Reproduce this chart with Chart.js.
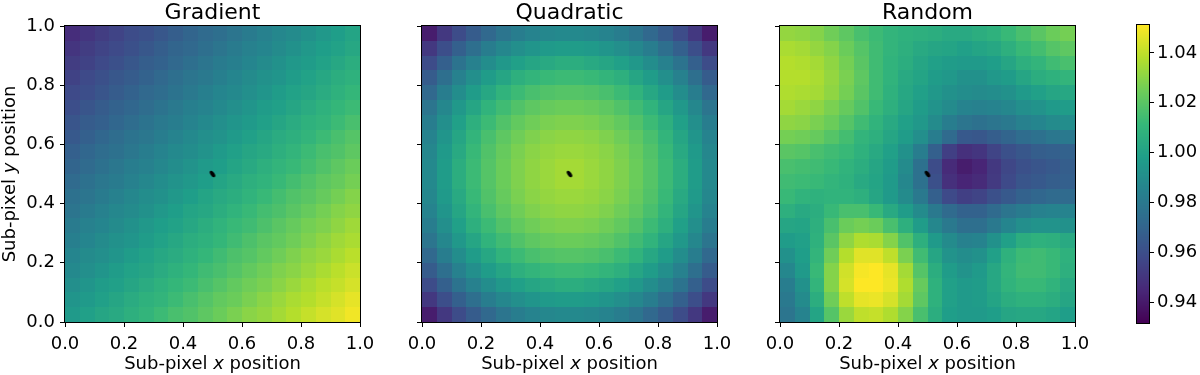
<!DOCTYPE html>
<html lang="en">
<head>
<meta charset="UTF-8">
<title>Sub-pixel response maps</title>
<style>
  body { margin: 0; background: #fff; }
  .wrap { position: relative; width: 1200px; height: 375px; }
  .wrap canvas { position: absolute; left: 0; top: 0; }
</style>
</head>
<body>
<div class="wrap">
  <canvas id="gradientChart" width="1200" height="375"></canvas>
  <canvas id="quadraticChart" width="1200" height="375"></canvas>
  <canvas id="randomChart" width="1200" height="375"></canvas>
  <canvas id="colorbarChart" width="1200" height="375"></canvas>
</div>
<script src="https://cdn.jsdelivr.net/npm/chart.js"></script>
<script>
// ---- data ----
const titles = ['Gradient', 'Quadratic', 'Random'];
const xLabelParts = [['Sub-pixel ', false], ['x', true], [' position', false]];
const yLabelParts = [['Sub-pixel ', false], ['y', true], [' position', false]];
const axisTicks = [0.0, 0.2, 0.4, 0.6, 0.8, 1.0];
const colorbarTicks = [0.94, 0.96, 0.98, 1.00, 1.02, 1.04];
const colorMin = 0.9316;
const colorMax = 1.0512;
const markerX = [0.5];
const markerY = [0.5];

// 20 x 20 cells, row 0 is the top (y = 0.95..1.0), column 0 is x = 0..0.05
const gradientGrid = [
  [0.947,0.950,0.953,0.956,0.959,0.961,0.964,0.967,0.970,0.973,0.975,0.978,0.981,0.984,0.987,0.989,0.992,0.995,0.998,1.001],
  [0.950,0.953,0.956,0.958,0.961,0.964,0.967,0.970,0.972,0.975,0.978,0.981,0.984,0.986,0.989,0.992,0.995,0.998,1.000,1.003],
  [0.953,0.955,0.958,0.961,0.964,0.967,0.969,0.972,0.975,0.978,0.981,0.983,0.986,0.989,0.992,0.995,0.997,1.000,1.003,1.006],
  [0.955,0.958,0.961,0.964,0.966,0.969,0.972,0.975,0.978,0.980,0.983,0.986,0.989,0.992,0.994,0.997,1.000,1.003,1.006,1.008],
  [0.958,0.960,0.963,0.966,0.969,0.972,0.974,0.977,0.980,0.983,0.986,0.988,0.991,0.994,0.997,1.000,1.002,1.005,1.008,1.011],
  [0.960,0.963,0.966,0.969,0.971,0.974,0.977,0.980,0.983,0.985,0.988,0.991,0.994,0.997,0.999,1.002,1.005,1.008,1.011,1.013],
  [0.963,0.966,0.968,0.971,0.974,0.977,0.980,0.982,0.985,0.988,0.991,0.994,0.996,0.999,1.002,1.005,1.008,1.010,1.013,1.016],
  [0.965,0.968,0.971,0.974,0.977,0.979,0.982,0.985,0.988,0.991,0.993,0.996,0.999,1.002,1.005,1.007,1.010,1.013,1.016,1.019],
  [0.968,0.971,0.974,0.976,0.979,0.982,0.985,0.988,0.990,0.993,0.996,0.999,1.002,1.004,1.007,1.010,1.013,1.016,1.018,1.021],
  [0.970,0.973,0.976,0.979,0.982,0.984,0.987,0.990,0.993,0.996,0.998,1.001,1.004,1.007,1.010,1.012,1.015,1.018,1.021,1.024],
  [0.973,0.976,0.979,0.981,0.984,0.987,0.990,0.993,0.995,0.998,1.001,1.004,1.007,1.009,1.012,1.015,1.018,1.021,1.023,1.026],
  [0.976,0.978,0.981,0.984,0.987,0.990,0.992,0.995,0.998,1.001,1.004,1.006,1.009,1.012,1.015,1.018,1.020,1.023,1.026,1.029],
  [0.978,0.981,0.984,0.987,0.989,0.992,0.995,0.998,1.001,1.003,1.006,1.009,1.012,1.015,1.017,1.020,1.023,1.026,1.029,1.031],
  [0.981,0.984,0.986,0.989,0.992,0.995,0.998,1.000,1.003,1.006,1.009,1.012,1.014,1.017,1.020,1.023,1.026,1.028,1.031,1.034],
  [0.983,0.986,0.989,0.992,0.994,0.997,1.000,1.003,1.006,1.008,1.011,1.014,1.017,1.020,1.022,1.025,1.028,1.031,1.034,1.036],
  [0.986,0.989,0.991,0.994,0.997,1.000,1.003,1.005,1.008,1.011,1.014,1.017,1.019,1.022,1.025,1.028,1.031,1.033,1.036,1.039],
  [0.988,0.991,0.994,0.997,1.000,1.002,1.005,1.008,1.011,1.014,1.016,1.019,1.022,1.025,1.028,1.030,1.033,1.036,1.039,1.042],
  [0.991,0.994,0.997,0.999,1.002,1.005,1.008,1.011,1.013,1.016,1.019,1.022,1.025,1.027,1.030,1.033,1.036,1.039,1.041,1.044],
  [0.994,0.996,0.999,1.002,1.005,1.008,1.010,1.013,1.016,1.019,1.022,1.024,1.027,1.030,1.033,1.036,1.038,1.041,1.044,1.047],
  [0.996,0.999,1.002,1.004,1.007,1.010,1.013,1.016,1.018,1.021,1.024,1.027,1.030,1.032,1.035,1.038,1.041,1.044,1.046,1.049]
];

const quadraticGrid = [
  [0.941,0.951,0.959,0.966,0.972,0.978,0.982,0.985,0.987,0.988,0.988,0.987,0.985,0.982,0.978,0.972,0.966,0.959,0.951,0.941],
  [0.951,0.960,0.968,0.975,0.982,0.987,0.991,0.994,0.996,0.997,0.997,0.996,0.994,0.991,0.987,0.982,0.975,0.968,0.960,0.951],
  [0.959,0.968,0.977,0.984,0.990,0.995,0.999,1.002,1.004,1.006,1.006,1.004,1.002,0.999,0.995,0.990,0.984,0.977,0.968,0.959],
  [0.966,0.975,0.984,0.991,0.997,1.002,1.007,1.010,1.012,1.013,1.013,1.012,1.010,1.007,1.002,0.997,0.991,0.984,0.975,0.966],
  [0.972,0.982,0.990,0.997,1.003,1.009,1.013,1.016,1.018,1.019,1.019,1.018,1.016,1.013,1.009,1.003,0.997,0.990,0.982,0.972],
  [0.978,0.987,0.995,1.002,1.009,1.014,1.018,1.021,1.023,1.024,1.024,1.023,1.021,1.018,1.014,1.009,1.002,0.995,0.987,0.978],
  [0.982,0.991,0.999,1.007,1.013,1.018,1.022,1.025,1.027,1.028,1.028,1.027,1.025,1.022,1.018,1.013,1.007,0.999,0.991,0.982],
  [0.985,0.994,1.002,1.010,1.016,1.021,1.025,1.028,1.030,1.031,1.031,1.030,1.028,1.025,1.021,1.016,1.010,1.002,0.994,0.985],
  [0.987,0.996,1.004,1.012,1.018,1.023,1.027,1.030,1.032,1.033,1.033,1.032,1.030,1.027,1.023,1.018,1.012,1.004,0.996,0.987],
  [0.988,0.997,1.006,1.013,1.019,1.024,1.028,1.031,1.033,1.035,1.035,1.033,1.031,1.028,1.024,1.019,1.013,1.006,0.997,0.988],
  [0.988,0.997,1.006,1.013,1.019,1.024,1.028,1.031,1.033,1.035,1.035,1.033,1.031,1.028,1.024,1.019,1.013,1.006,0.997,0.988],
  [0.987,0.996,1.004,1.012,1.018,1.023,1.027,1.030,1.032,1.033,1.033,1.032,1.030,1.027,1.023,1.018,1.012,1.004,0.996,0.987],
  [0.985,0.994,1.002,1.010,1.016,1.021,1.025,1.028,1.030,1.031,1.031,1.030,1.028,1.025,1.021,1.016,1.010,1.002,0.994,0.985],
  [0.982,0.991,0.999,1.007,1.013,1.018,1.022,1.025,1.027,1.028,1.028,1.027,1.025,1.022,1.018,1.013,1.007,0.999,0.991,0.982],
  [0.978,0.987,0.995,1.002,1.009,1.014,1.018,1.021,1.023,1.024,1.024,1.023,1.021,1.018,1.014,1.009,1.002,0.995,0.987,0.978],
  [0.972,0.982,0.990,0.997,1.003,1.009,1.013,1.016,1.018,1.019,1.019,1.018,1.016,1.013,1.009,1.003,0.997,0.990,0.982,0.972],
  [0.966,0.975,0.984,0.991,0.997,1.002,1.007,1.010,1.012,1.013,1.013,1.012,1.010,1.007,1.002,0.997,0.991,0.984,0.975,0.966],
  [0.959,0.968,0.977,0.984,0.990,0.995,0.999,1.002,1.004,1.006,1.006,1.004,1.002,0.999,0.995,0.990,0.984,0.977,0.968,0.959],
  [0.951,0.960,0.968,0.975,0.982,0.987,0.991,0.994,0.996,0.997,0.997,0.996,0.994,0.991,0.987,0.982,0.975,0.968,0.960,0.951],
  [0.941,0.951,0.959,0.966,0.972,0.978,0.982,0.985,0.987,0.988,0.988,0.987,0.985,0.982,0.978,0.972,0.966,0.959,0.951,0.941]
];

const randomGrid = [
  [1.032,1.031,1.029,1.025,1.021,1.016,1.013,1.010,1.008,1.007,1.006,1.004,1.004,1.006,1.008,1.012,1.016,1.020,1.024,1.026],
  [1.036,1.035,1.032,1.029,1.024,1.019,1.014,1.010,1.007,1.004,1.002,1.001,0.999,1.001,1.003,1.007,1.012,1.015,1.019,1.021],
  [1.038,1.037,1.035,1.031,1.026,1.020,1.014,1.009,1.006,1.002,0.999,0.997,0.996,0.996,0.998,1.002,1.007,1.010,1.014,1.016],
  [1.038,1.038,1.036,1.032,1.027,1.021,1.014,1.009,1.004,1.001,0.997,0.995,0.992,0.992,0.995,0.997,1.002,1.006,1.008,1.010],
  [1.037,1.036,1.035,1.031,1.026,1.020,1.014,1.008,1.003,0.999,0.995,0.992,0.990,0.989,0.990,0.992,0.996,0.999,1.002,1.003],
  [1.035,1.033,1.031,1.027,1.023,1.018,1.012,1.007,1.002,0.997,0.993,0.989,0.985,0.984,0.985,0.987,0.991,0.993,0.996,0.997],
  [1.031,1.030,1.027,1.024,1.019,1.014,1.009,1.004,0.999,0.995,0.989,0.982,0.978,0.976,0.978,0.980,0.984,0.986,0.989,0.990],
  [1.026,1.025,1.023,1.019,1.015,1.010,1.007,1.002,0.997,0.991,0.982,0.973,0.965,0.964,0.967,0.970,0.974,0.976,0.979,0.980],
  [1.020,1.019,1.016,1.014,1.012,1.008,1.004,0.999,0.992,0.982,0.968,0.954,0.948,0.950,0.956,0.961,0.964,0.967,0.968,0.969],
  [1.016,1.015,1.014,1.012,1.009,1.006,1.002,0.997,0.989,0.976,0.959,0.946,0.941,0.944,0.951,0.957,0.961,0.963,0.965,0.967],
  [1.014,1.013,1.012,1.010,1.008,1.004,1.001,0.996,0.987,0.976,0.961,0.948,0.944,0.946,0.952,0.958,0.963,0.965,0.967,0.968],
  [1.012,1.009,1.008,1.009,1.009,1.007,1.002,0.996,0.989,0.980,0.968,0.958,0.954,0.956,0.961,0.965,0.969,0.971,0.973,0.973],
  [1.007,1.004,1.006,1.012,1.016,1.016,1.012,1.004,0.997,0.989,0.980,0.973,0.969,0.969,0.973,0.978,0.981,0.984,0.985,0.985],
  [1.002,1.001,1.007,1.016,1.024,1.026,1.024,1.016,1.007,0.997,0.987,0.980,0.975,0.975,0.980,0.986,0.991,0.993,0.993,0.992],
  [0.997,0.999,1.008,1.020,1.031,1.037,1.036,1.029,1.018,1.007,0.996,0.989,0.984,0.985,0.992,0.999,1.006,1.008,1.007,1.004],
  [0.992,0.998,1.010,1.025,1.038,1.046,1.046,1.040,1.027,1.014,1.002,0.993,0.990,0.992,0.999,1.008,1.013,1.014,1.012,1.008],
  [0.987,0.996,1.012,1.029,1.043,1.050,1.052,1.047,1.035,1.019,1.006,0.997,0.993,0.996,1.003,1.010,1.014,1.014,1.012,1.007],
  [0.982,0.992,1.010,1.029,1.044,1.052,1.053,1.048,1.037,1.023,1.008,0.999,0.996,0.997,1.003,1.009,1.012,1.012,1.009,1.004],
  [0.980,0.989,1.006,1.025,1.040,1.047,1.048,1.044,1.035,1.021,1.008,0.999,0.996,0.997,1.001,1.006,1.008,1.008,1.006,1.002],
  [0.978,0.985,1.001,1.019,1.033,1.040,1.041,1.037,1.029,1.016,1.006,0.998,0.996,0.996,0.998,1.002,1.003,1.003,1.001,0.998]
];

const grids = [gradientGrid, quadraticGrid, randomGrid];

// ---- layout / style ----
const W = 1200, H = 375;
const PANEL_LEFT = [65, 422, 780];
const PANEL_W = 295;
const PLOT_TOP = 26, PLOT_BOTTOM = 322;
const Y_AXIS_W = 60, X_AXIS_H = 40;
const CB_LEFT = 1137, CB_W = 12, CB_AXIS_W = 50;
const FONT = '"DejaVu Sans", sans-serif';
const TICK_SIZE = 18, LABEL_SIZE = 18, TITLE_SIZE = 22;

Chart.defaults.font.family = FONT;
Chart.defaults.font.size = TICK_SIZE;
Chart.defaults.color = '#000';

const viridisStops = ['#440154', '#482878', '#3e4a89', '#31688e', '#26828e',
                      '#1f9e89', '#35b779', '#6dcd59', '#b4de2c', '#fde725'];
const stopRgb = viridisStops.map(h => [1, 3, 5].map(i => parseInt(h.substr(i, 2), 16)));

function viridis(t) {
  t = Math.max(0, Math.min(1, t));
  const p = t * (stopRgb.length - 1);
  const i = Math.min(stopRgb.length - 2, Math.floor(p));
  const f = p - i;
  const a = stopRgb[i], b = stopRgb[i + 1];
  const c = a.map((v, k) => Math.round(v + (b[k] - v) * f));
  return `rgb(${c[0]},${c[1]},${c[2]})`;
}

function valueColor(v) {
  return viridis((v - colorMin) / (colorMax - colorMin));
}

// small tilted black ellipse used as the marker
const markerImage = document.createElement('canvas');
markerImage.width = 10; markerImage.height = 10;
(function () {
  const m = markerImage.getContext('2d');
  m.fillStyle = '#000';
  m.beginPath();
  m.ellipse(5, 5, 3.8, 1.9, 0.93, 0, Math.PI * 2);
  m.fill();
})();

function drawFrame(ctx, a) {
  ctx.save();
  ctx.strokeStyle = '#000';
  ctx.lineWidth = 1;
  ctx.strokeRect(Math.round(a.left) - 0.5, Math.round(a.top) - 0.5,
                 Math.round(a.right - a.left) + 1, Math.round(a.bottom - a.top) + 1);
  ctx.restore();
}

function heatmapPlugin(grid) {
  return {
    id: 'heatmap',
    beforeDatasetsDraw(chart) {
      const ctx = chart.ctx, xs = chart.scales.x, ys = chart.scales.y;
      const rows = grid.length;
      ctx.save();
      grid.forEach((row, r) => {
        const cols = row.length;
        // row 0 is the top of the map
        const yTop = Math.round(ys.getPixelForValue(1 - r / rows));
        const yBot = Math.round(ys.getPixelForValue(1 - (r + 1) / rows));
        row.forEach((v, c) => {
          const x0 = Math.round(xs.getPixelForValue(c / cols));
          const x1 = Math.round(xs.getPixelForValue((c + 1) / cols));
          ctx.fillStyle = valueColor(v);
          ctx.fillRect(x0, yTop, x1 - x0, yBot - yTop);
        });
      });
      ctx.restore();
    },
    afterDatasetsDraw(chart) {
      drawFrame(chart.ctx, chart.chartArea);
    }
  };
}

function drawMixed(ctx, parts, cx, y) {
  const fonts = parts.map(p => (p[1] ? 'italic ' : '') + LABEL_SIZE + 'px ' + FONT);
  const widths = parts.map((p, i) => { ctx.font = fonts[i]; return ctx.measureText(p[0]).width; });
  let x = cx - widths.reduce((s, w) => s + w, 0) / 2;
  ctx.textAlign = 'left';
  parts.forEach((p, i) => {
    ctx.font = fonts[i];
    ctx.fillText(p[0], x, y);
    x += widths[i];
  });
}

function labelPlugin(title, withYLabel) {
  return {
    id: 'panelLabels',
    afterDraw(chart) {
      const ctx = chart.ctx, a = chart.chartArea;
      const cx = (a.left + a.right) / 2;
      ctx.save();
      ctx.fillStyle = '#000';
      ctx.textBaseline = 'alphabetic';
      ctx.textAlign = 'center';
      ctx.font = TITLE_SIZE + 'px ' + FONT;
      ctx.fillText(title, cx, 18.5);
      drawMixed(ctx, xLabelParts, cx, 369);
      if (withYLabel) {
        ctx.translate(15, (a.top + a.bottom) / 2);
        ctx.rotate(-Math.PI / 2);
        drawMixed(ctx, yLabelParts, 0, 0);
      }
      ctx.restore();
    }
  };
}

const tickGrid = { drawOnChartArea: false, drawTicks: true, tickLength: 5, color: '#000', lineWidth: 1 };
const axisBorder = { display: true, color: '#000', width: 1 };

function makePanel(canvasId, i) {
  const left = PANEL_LEFT[i];
  return new Chart(document.getElementById(canvasId), {
    type: 'scatter',
    data: {
      datasets: [{
        data: markerX.map((x, k) => ({ x: x, y: markerY[k] })),
        pointStyle: markerImage,
        pointRadius: 5,
        backgroundColor: '#000',
        borderColor: '#000'
      }]
    },
    options: {
      responsive: false,
      animation: false,
      events: [],
      layout: {
        padding: {
          left: left - Y_AXIS_W,
          right: W - left - PANEL_W,
          top: PLOT_TOP,
          bottom: H - PLOT_BOTTOM - X_AXIS_H
        }
      },
      plugins: { legend: { display: false }, tooltip: { enabled: false }, title: { display: false } },
      scales: {
        x: {
          type: 'linear', min: 0, max: 1,
          afterBuildTicks: s => { s.ticks = axisTicks.map(v => ({ value: v })); },
          afterFit: s => { s.height = X_AXIS_H; },
          ticks: { callback: v => v.toFixed(1), maxRotation: 0, autoSkip: false, padding: 7 },
          grid: tickGrid,
          border: axisBorder
        },
        y: {
          type: 'linear', min: 0, max: 1,
          afterBuildTicks: s => { s.ticks = axisTicks.map(v => ({ value: v })); },
          afterFit: s => { s.width = Y_AXIS_W; },
          ticks: { display: i === 0, callback: v => v.toFixed(1), autoSkip: false, padding: 5 },
          grid: tickGrid,
          border: axisBorder
        }
      }
    },
    plugins: [heatmapPlugin(grids[i]), labelPlugin(titles[i], i === 0)]
  });
}

makePanel('gradientChart', 0);
makePanel('quadraticChart', 1);
makePanel('randomChart', 2);

// colour bar
const colorbarPlugin = {
  id: 'colorbar',
  beforeDatasetsDraw(chart) {
    const ctx = chart.ctx, a = chart.chartArea, ys = chart.scales.y;
    ctx.save();
    for (let py = Math.round(a.top); py < Math.round(a.bottom); py++) {
      ctx.fillStyle = valueColor(ys.getValueForPixel(py + 0.5));
      ctx.fillRect(Math.round(a.left), py, Math.round(a.right - a.left), 1);
    }
    ctx.restore();
  },
  afterDraw(chart) {
    drawFrame(chart.ctx, chart.chartArea);
  }
};

new Chart(document.getElementById('colorbarChart'), {
  type: 'scatter',
  data: { datasets: [] },
  options: {
    responsive: false,
    animation: false,
    events: [],
    layout: {
      padding: { left: CB_LEFT, right: W - CB_LEFT - CB_W - CB_AXIS_W, top: PLOT_TOP - 1, bottom: H - PLOT_BOTTOM - 1 }
    },
    plugins: { legend: { display: false }, tooltip: { enabled: false } },
    scales: {
      x: { type: 'linear', display: false, min: 0, max: 1 },
      y: {
        type: 'linear', position: 'right', min: colorMin, max: colorMax,
        afterBuildTicks: s => { s.ticks = colorbarTicks.map(v => ({ value: v })); },
        afterFit: s => { s.width = CB_AXIS_W; },
        ticks: { callback: v => v.toFixed(2), autoSkip: false, padding: 3 },
        grid: tickGrid,
        border: axisBorder
      }
    }
  },
  plugins: [colorbarPlugin]
});
</script>
</body>
</html>
